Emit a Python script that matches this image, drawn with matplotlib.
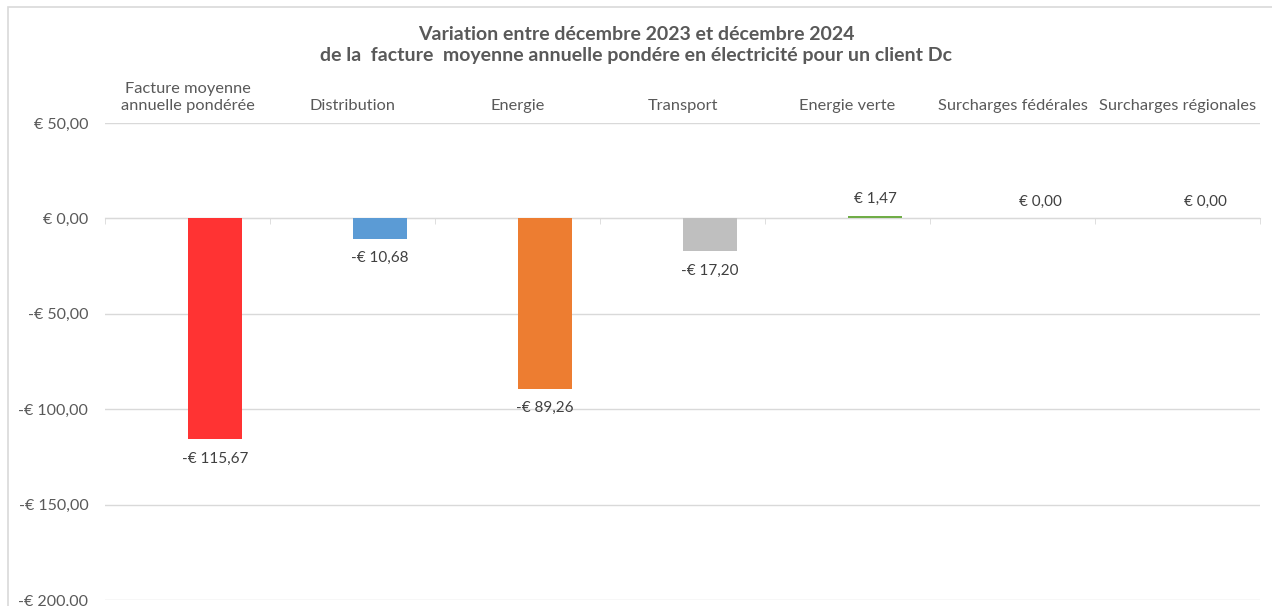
import numpy as np
import matplotlib
matplotlib.use('Agg')
import matplotlib.pyplot as plt
from matplotlib.patches import Rectangle

plt.rcParams['font.family'] = ['Lato', 'DejaVu Sans']

categories = ['Facture moyenne\nannuelle pondérée', 'Distribution', 'Energie',
              'Transport', 'Energie verte', 'Surcharges fédérales',
              'Surcharges régionales']
values = [-115.67, -10.68, -89.26, -17.20, 1.47, 0.00, 0.00]
colors = ['#FF3333', '#5B9BD5', '#ED7D31', '#BFBFBF', '#70AD47', '#A5A5A5', '#4472C4']
yticks = [50, 0, -50, -100, -150, -200]

txt = '#595959'

def euro(v):
    s = '€ %.2f' % abs(v)
    s = s.replace('.', ',')
    return '-' + s if v < 0 else s

fig = plt.figure(figsize=(12.72, 6.06), dpi=100)
ax = fig.add_axes([105 / 1272, 6 / 606, 1155 / 1272, 477 / 606])

x = np.arange(len(categories))
bw = 0.333
# bars sit to the right of the category centre (second, empty series in the original)
xb = x + bw / 2
ax.bar(xb, values, width=bw, color=colors, zorder=3)

for xi, v in zip(xb, values):
    if v < 0:
        ax.annotate(euro(v), (xi, v), xytext=(0, -9), textcoords='offset points',
                    ha='center', va='top', fontsize=11, color='#404040')
    else:
        ax.annotate(euro(v), (xi, v), xytext=(0, 7), textcoords='offset points',
                    ha='center', va='bottom', fontsize=11, color='#404040')

ax.set_xlim(-0.5, len(categories) - 0.5)
ax.set_ylim(-200, 50)
ax.set_yticks(yticks)
ax.set_yticklabels([euro(v) for v in yticks], fontsize=11.5, color=txt)
ax.tick_params(axis='y', length=0, pad=12)
ax.grid(axis='y', color='#D9D9D9', linewidth=1, zorder=0)

# category labels on top, small ticks on the zero line
ax.set_xticks(x)
ax.xaxis.set_tick_params(which='major', length=0, labeltop=True, labelbottom=False, pad=7.5,
                         labelsize=11.8, labelcolor=txt)
ax.set_xticklabels(categories, linespacing=0.98)
ax.set_xticks(np.arange(len(categories) + 1) - 0.5, minor=True)
ax.xaxis.set_tick_params(which='minor', bottom=True, top=False, length=4,
                         color='#D9D9D9', direction='out')
ax.spines['bottom'].set_position(('data', 0))
ax.spines['bottom'].set_color('#D9D9D9')
for s in ['top', 'left', 'right']:
    ax.spines[s].set_visible(False)

fig.text(0.5, 1 - 45 / 606, 'Variation entre décembre 2023 et décembre 2024\n'
         'de la  facture  moyenne annuelle pondére en électricité pour un client Dc',
         ha='center', va='center', fontsize=14, fontweight='bold', color=txt,
         linespacing=1.3)

fig.patches.append(Rectangle((8 / 1272, -0.1), 1.2, 1.1 - 7 / 606, transform=fig.transFigure,
                             fill=False, edgecolor='#D9D9D9', linewidth=1.2))

fig.savefig('out.png', dpi=100)
